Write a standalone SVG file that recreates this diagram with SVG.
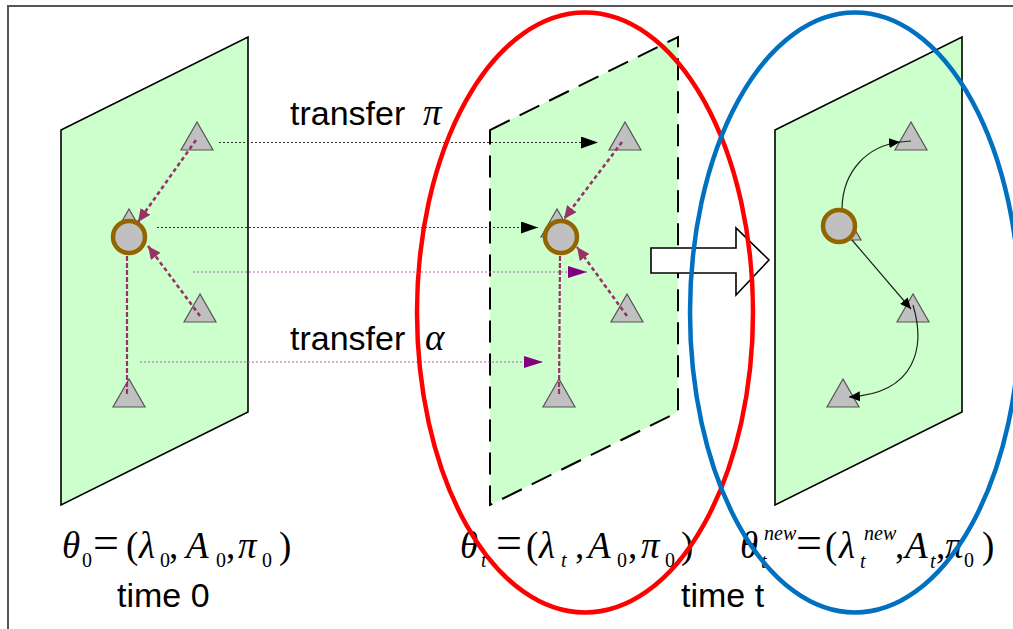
<svg xmlns="http://www.w3.org/2000/svg" width="1013" height="629" viewBox="0 0 1013 629">
<style>
.panel{fill:#CCFFCC;stroke:#000;stroke-width:1.6}
.panel-dash{fill:#CCFFCC;stroke:#000;stroke-width:2;stroke-dasharray:22,11}
.tri{fill:#C0C0C0;stroke:#555;stroke-width:1.2}
.hub{fill:#C0C0C0;stroke:#946400;stroke-width:4.5}
.dotk{fill:none;stroke:#333;stroke-width:1.2;stroke-dasharray:2,2}
.dotp{fill:none;stroke:#B060B0;stroke-width:1.2;stroke-dasharray:2,2}
.magd{fill:none;stroke:#993366;stroke-width:2.6;stroke-dasharray:4,3}
.magv{fill:none;stroke:#993366;stroke-width:2.2;stroke-dasharray:5,2}
.thin{fill:none;stroke:#222;stroke-width:1.2}
.lbl{font-family:"Liberation Sans",Arial,sans-serif;font-size:34px;fill:#000}
.math{font-family:"Liberation Serif","Times New Roman",serif;font-size:37px;fill:#000}
.it{font-style:italic}
.sub{font-size:20px}
</style>
<defs>
<marker id="ak" markerUnits="userSpaceOnUse" markerWidth="18" markerHeight="12" refX="17" refY="6" orient="auto"><path d="M0,0 L17,6 L0,12 z" fill="#000"/></marker>
<marker id="ap" markerUnits="userSpaceOnUse" markerWidth="20" markerHeight="12" refX="19" refY="6" orient="auto"><path d="M0,0 L19,6 L0,12 z" fill="#800080"/></marker>
<marker id="am" markerUnits="userSpaceOnUse" markerWidth="14" markerHeight="12" refX="13" refY="6" orient="auto"><path d="M0,0 L13,6 L0,12 z" fill="#993366"/></marker>
<marker id="as" markerUnits="userSpaceOnUse" markerWidth="12" markerHeight="10" refX="11" refY="5" orient="auto"><path d="M0,0 L11,5 L0,10 z" fill="#000"/></marker>
</defs>

<g id="frame" fill="none" stroke="#555" stroke-width="2">
<path d="M8,629 L8,6 L1013,6"/>
</g>

<g id="panel-time0"><polygon class="panel" points="61,130 248,37 248,412 61,505"/></g>
<g id="panel-time-t"><polygon class="panel-dash" points="490,130 678,37 678,412 490,505"/></g>
<g id="panel-new"><polygon class="panel" points="775,130 962,37 962,412 775,505"/></g>

<g id="nodes">
<g id="p1-top"><polygon class="tri" points="197,122 181,150 213,150"/></g>
<g id="p1-back"><polygon class="tri" points="129,209 113,237 145,237"/></g>
<g id="p1-hub"><circle class="hub" cx="129" cy="237" r="16"/></g>
<g id="p1-mid"><polygon class="tri" points="200,294 184,322 216,322"/></g>
<g id="p1-bot"><polygon class="tri" points="129,379 113,407 145,407"/></g>

<g id="p2-top"><polygon class="tri" points="625,122 609,150 641,150"/></g>
<g id="p2-back"><polygon class="tri" points="557,209 541,237 573,237"/></g>
<g id="p2-hub"><circle class="hub" cx="561" cy="237" r="16"/></g>
<g id="p2-mid"><polygon class="tri" points="627,294 611,322 643,322"/></g>
<g id="p2-bot"><polygon class="tri" points="559,379 543,407 575,407"/></g>

<g id="p3-top"><polygon class="tri" points="911,122 895,150 927,150"/></g>
<g id="p3-back"><polygon class="tri" points="845,213 829,240 861,240"/></g>
<g id="p3-hub"><circle class="hub" cx="839" cy="226" r="16"/></g>
<g id="p3-mid"><polygon class="tri" points="913,294 897,322 929,322"/></g>
<g id="p3-bot"><polygon class="tri" points="843,379 827,407 859,407"/></g>
</g>

<g id="connectors">
<path class="dotk" d="M219,142.5 L598,142.5" marker-end="url(#ak)"/>
<path class="dotk" d="M157,227.5 L538,227.5" marker-end="url(#ak)"/>
<path class="dotp" d="M193,272 L587,272" marker-end="url(#ap)"/>
<path class="dotp" d="M140,362 L543,362" marker-end="url(#ap)"/>

<path class="magd" d="M196,140 L138,222" marker-end="url(#am)"/>
<path class="magd" d="M200,316 L148,246" marker-end="url(#am)"/>
<path class="magv" d="M127,256 L127,396"/>

<path class="magd" d="M622,142 L564,219" marker-end="url(#am)"/>
<path class="magd" d="M627,316 L577,247" marker-end="url(#am)"/>
<path class="magv" d="M560,256 L559,396"/>

<path class="thin" d="M842,208 C843,170 868,146 900,142 L911,141" marker-mid="url(#as)"/>
<path class="thin" d="M852,240 L911,309" marker-end="url(#as)"/>
<path class="thin" d="M913,305 C925,345 918,393 849,397" marker-end="url(#as)"/>
</g>

<g id="block-arrow"><polygon points="651,248 736,248 736,228 769,260 736,295 736,273 651,273" fill="#fff" stroke="#000" stroke-width="1.6"/></g>

<g id="labels">
<text class="lbl" x="290" y="125">transfer</text>
<text class="math it" x="423" y="125">π</text>
<text class="lbl" x="290" y="350">transfer</text>
<text class="math it" x="425" y="350">α</text>

<text class="math"><tspan class="it" x="62" y="558">θ</tspan><tspan class="sub" x="82" y="567">0</tspan><tspan x="93" y="558" font-size="46">=</tspan><tspan x="126" y="558">(</tspan><tspan class="it" x="139" y="558">λ</tspan><tspan class="sub" x="160" y="567">0</tspan><tspan x="169" y="558">,</tspan><tspan class="it" x="186" y="558">A</tspan><tspan class="sub" x="216" y="567">0</tspan><tspan x="226" y="558">,</tspan><tspan class="it" x="238" y="558">π</tspan><tspan class="sub" x="262" y="567">0</tspan><tspan x="279" y="558">)</tspan></text>
<text class="lbl" x="117" y="607">time 0</text>

<text class="math"><tspan class="it" x="460" y="558">θ</tspan><tspan class="it sub" x="481" y="567">t</tspan><tspan x="496" y="558" font-size="46">=</tspan><tspan x="526" y="558">(</tspan><tspan class="it" x="539" y="558">λ</tspan><tspan class="it sub" x="561" y="567">t</tspan><tspan x="575" y="558">,</tspan><tspan class="it" x="588" y="558">A</tspan><tspan class="sub" x="617" y="567">0</tspan><tspan x="628" y="558">,</tspan><tspan class="it" x="641" y="558">π</tspan><tspan class="sub" x="665" y="567">0</tspan><tspan x="681" y="558">)</tspan></text>
<text class="lbl" x="681" y="607">time t</text>

<text class="math"><tspan class="it" x="740" y="558">θ</tspan><tspan class="it sub" x="764" y="540">new</tspan><tspan class="it sub" x="761" y="568">t</tspan><tspan x="796" y="558" font-size="46">=</tspan><tspan x="825" y="558">(</tspan><tspan class="it" x="839" y="558">λ</tspan><tspan class="it sub" x="864" y="540">new</tspan><tspan class="it sub" x="860" y="568">t</tspan><tspan x="895" y="558">,</tspan><tspan class="it" x="905" y="558">A</tspan><tspan class="it sub" x="930" y="568">t</tspan><tspan x="936" y="558">,</tspan><tspan class="it" x="945" y="558">π</tspan><tspan class="sub" x="964" y="567">0</tspan><tspan x="982" y="558">)</tspan></text>
</g>

<g id="groupings" fill="none" stroke-width="4.5">
<ellipse cx="585" cy="312.5" rx="168" ry="300" stroke="#FF0000"/>
<ellipse cx="855" cy="312.5" rx="165" ry="300" stroke="#0070C0"/>
</g>
</svg>
